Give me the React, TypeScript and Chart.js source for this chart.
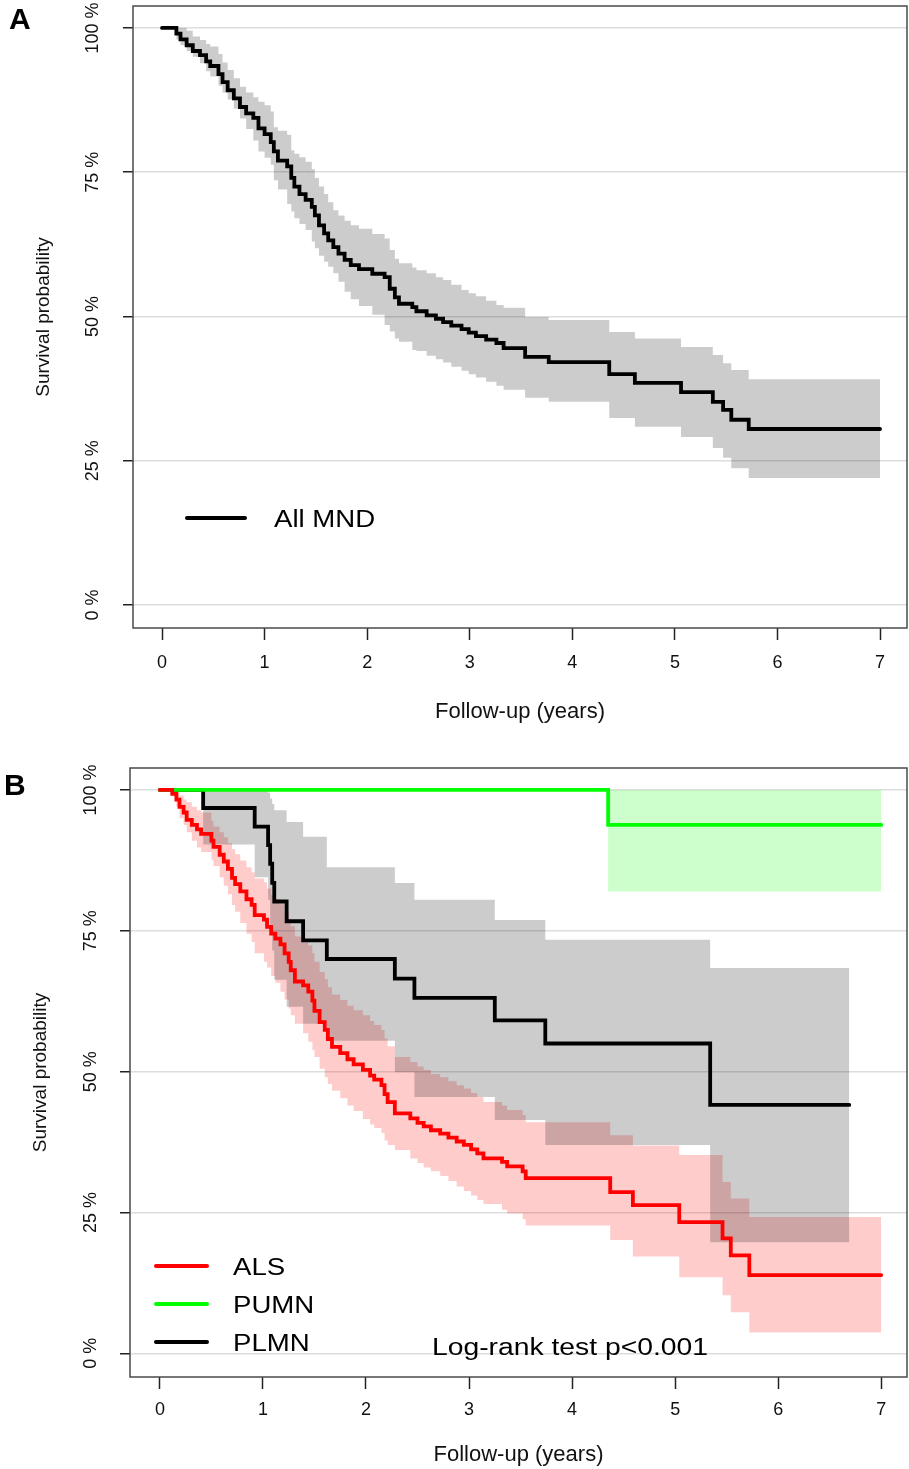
import React, { useEffect, useRef } from 'react';
import { Chart, registerables } from 'chart.js';

Chart.register(...registerables);

const FONT = '"Liberation Sans", Arial, Helvetica, sans-serif';

// ---------- shared axis text ----------
const xTickValues = [0, 1, 2, 3, 4, 5, 6, 7];
const xTickLabels = ['0', '1', '2', '3', '4', '5', '6', '7'];
const yTickValues = [0, 25, 50, 75, 100];
const yTickLabels = ['0 %', '25 %', '50 %', '75 %', '100 %'];
const xAxisTitle = 'Follow-up (years)';
const yAxisTitle = 'Survival probability';

// ---------- Panel A: All MND ----------
const panelALabel = 'A';
const mndName = 'All MND';
const mndTimes = [0, 0.14, 0.18, 0.24, 0.30, 0.37, 0.43, 0.47, 0.55, 0.59, 0.64, 0.70, 0.76, 0.82, 0.89, 0.94, 1.00, 1.06, 1.09, 1.13, 1.22, 1.26, 1.29, 1.34, 1.40, 1.46, 1.49, 1.53, 1.58, 1.62, 1.67, 1.72, 1.78, 1.84, 1.92, 2.05, 2.17, 2.22, 2.27, 2.31, 2.44, 2.48, 2.58, 2.67, 2.74, 2.82, 2.92, 2.99, 3.06, 3.16, 3.26, 3.33, 3.54, 3.77, 4.36, 4.61, 5.06, 5.37, 5.47, 5.55, 5.72, 7.00];
const mndSurv = [100, 99.0, 98.0, 97.0, 96.0, 95.3, 94.2, 93.4, 92.0, 90.6, 89.2, 87.8, 86.3, 85.2, 84.4, 82.6, 81.6, 80.2, 78.6, 77.0, 76.0, 74.0, 72.5, 71.2, 70.2, 69.0, 67.5, 65.8, 64.4, 63.2, 62.0, 60.9, 59.8, 58.9, 58.2, 57.4, 56.8, 54.8, 53.3, 52.2, 51.6, 50.9, 50.2, 49.6, 49.0, 48.4, 47.8, 47.2, 46.6, 46.0, 45.4, 44.5, 43.0, 42.1, 40.0, 38.5, 36.9, 35.2, 33.8, 32.1, 30.5, 30.5];
const mndUpper = [100, 100, 100, 99.5, 98.5, 97.9, 97.2, 96.8, 95.5, 94.0, 92.7, 91.3, 89.8, 88.8, 88.0, 87.2, 86.6, 85.5, 82.8, 82.2, 81.5, 78.8, 78.2, 77.6, 76.8, 75.5, 74.0, 72.5, 71.2, 69.8, 68.4, 67.5, 66.6, 65.8, 65.2, 64.3, 63.5, 61.5, 60.0, 59.2, 58.5, 58.0, 57.5, 56.8, 56.3, 55.5, 54.6, 54.0, 53.5, 52.7, 52.0, 51.5, 49.9, 49.4, 47.3, 46.2, 44.7, 43.3, 41.9, 40.7, 39.1, 39.1];
const mndLower = [100, 98.0, 97.0, 96.0, 95.0, 93.9, 92.5, 91.6, 90.0, 88.8, 87.6, 86.0, 84.3, 82.5, 80.5, 78.6, 77.5, 76.3, 73.6, 72.0, 69.5, 68.2, 67.0, 66.0, 65.0, 63.0, 61.8, 60.5, 59.5, 58.6, 57.5, 56.0, 54.3, 53.0, 51.8, 50.3, 48.5, 47.4, 46.2, 45.6, 44.2, 44.0, 43.2, 42.6, 42.0, 41.3, 40.6, 40.0, 39.4, 38.7, 38.0, 37.3, 35.9, 35.2, 32.4, 30.9, 29.1, 27.2, 25.5, 23.7, 22.0, 22.0];

// ---------- Panel B: by phenotype ----------
const panelBLabel = 'B';
const groupNames = ['ALS', 'PUMN', 'PLMN'];
const groupColors = ['#ff0000', '#00ff00', '#000000'];
const bandColors = ['rgba(255,0,0,0.2)', 'rgba(0,255,0,0.2)', 'rgba(0,0,0,0.2)'];
const logRankText = 'Log-rank test p<0.001';

const alsTimes = [0, 0.12, 0.16, 0.19, 0.23, 0.26, 0.31, 0.36, 0.40, 0.50, 0.52, 0.58, 0.62, 0.66, 0.70, 0.73, 0.78, 0.84, 0.89, 0.92, 1.01, 1.04, 1.08, 1.12, 1.17, 1.21, 1.25, 1.27, 1.31, 1.39, 1.44, 1.48, 1.50, 1.55, 1.60, 1.63, 1.67, 1.75, 1.82, 1.88, 1.97, 2.04, 2.08, 2.15, 2.18, 2.21, 2.28, 2.43, 2.50, 2.56, 2.63, 2.72, 2.80, 2.88, 2.95, 3.02, 3.08, 3.14, 3.32, 3.37, 3.52, 3.55, 4.37, 4.59, 5.04, 5.46, 5.54, 5.72, 7.00];
const alsSurv = [100, 99.3, 98.3, 97.0, 96.0, 94.7, 93.8, 93.0, 92.2, 91.0, 89.9, 88.5, 87.3, 86.0, 84.4, 83.3, 82.0, 80.6, 79.6, 77.8, 77.0, 75.7, 74.5, 73.6, 72.6, 71.0, 69.5, 68.0, 66.0, 65.3, 64.2, 62.6, 60.8, 58.8, 57.4, 55.8, 54.4, 53.3, 52.2, 51.3, 50.3, 49.3, 48.6, 47.6, 46.0, 44.6, 42.6, 41.7, 40.9, 40.3, 39.6, 39.0, 38.3, 37.6, 37.0, 36.2, 35.5, 34.6, 34.0, 33.2, 32.3, 31.1, 28.6, 26.3, 23.3, 20.4, 17.4, 13.9, 13.9];
const alsUpper = [100, 100, 99.5, 99.0, 98.3, 97.8, 97.0, 96.4, 96.0, 94.5, 93.5, 92.5, 91.6, 90.6, 89.5, 88.6, 87.5, 86.3, 85.4, 84.3, 83.6, 82.5, 81.4, 80.6, 79.7, 78.3, 77.0, 75.8, 74.0, 73.4, 72.4, 71.0, 69.5, 67.7, 66.4, 65.0, 63.7, 62.7, 61.7, 60.9, 60.0, 59.0, 58.3, 57.4, 55.9, 54.5, 52.6, 51.7, 50.9, 50.3, 49.6, 49.0, 48.3, 47.6, 47.0, 46.2, 45.5, 44.6, 44.0, 43.2, 42.3, 41.0, 38.7, 36.9, 35.2, 30.4, 27.5, 24.2, 24.2];
const alsLower = [100, 99.0, 97.0, 95.0, 93.8, 92.5, 91.0, 89.8, 89.0, 87.6, 86.5, 84.5, 83.0, 81.5, 79.6, 78.4, 76.4, 74.5, 73.0, 71.0, 69.5, 68.5, 67.0, 65.8, 64.2, 62.8, 61.2, 60.0, 58.5, 56.8, 55.3, 53.8, 52.6, 50.5, 49.0, 47.8, 46.6, 45.3, 44.0, 43.0, 41.6, 40.6, 40.0, 39.1, 37.8, 37.0, 36.1, 34.6, 33.8, 33.0, 32.3, 31.5, 30.6, 29.6, 28.8, 28.0, 27.2, 26.5, 25.5, 24.8, 23.8, 22.7, 20.1, 17.2, 13.5, 10.3, 7.3, 3.7, 3.7];

const pumnTimes = [0, 4.35, 7.00];
const pumnSurv = [100, 93.8, 93.8];
const pumnUpper = [100, 100, 100];
const pumnLower = [100, 82.0, 82.0];

const plmnTimes = [0, 0.42, 0.92, 1.05, 1.07, 1.09, 1.11, 1.23, 1.39, 1.62, 2.28, 2.47, 3.25, 3.74, 5.34, 6.69];
const plmnSurv = [100, 96.8, 93.5, 90.2, 86.9, 83.5, 80.2, 76.7, 73.3, 70.0, 66.5, 63.1, 59.1, 55.0, 44.1, 44.1];
const plmnUpper = [100, 100, 100, 99.5, 98.5, 97.5, 96.4, 94.3, 91.7, 86.3, 83.5, 80.5, 76.9, 73.4, 68.4, 68.4];
const plmnLower = [100, 90.3, 84.5, 80.5, 76.0, 71.5, 66.3, 61.5, 58.5, 55.5, 49.9, 45.5, 41.4, 37.0, 19.7, 19.7];

// ---------- helpers ----------
const pts = (times: number[], vals: number[]) => times.map((t, i) => ({ x: t, y: vals[i] }));

const lineDs = (label: string, times: number[], vals: number[], color: string) => ({
  label,
  data: pts(times, vals),
  borderColor: color,
  backgroundColor: color,
  borderWidth: 3.8,
  stepped: true,
  pointRadius: 0,
  fill: false,
  borderCapStyle: 'round',
});

const bandDs = (times: number[], upper: number[], lower: number[], color: string) => [
  {
    label: 'upper',
    data: pts(times, upper),
    borderColor: 'rgba(0,0,0,0)',
    borderWidth: 0,
    stepped: true,
    pointRadius: 0,
    fill: false,
  },
  {
    label: 'lower',
    data: pts(times, lower),
    borderColor: 'rgba(0,0,0,0)',
    backgroundColor: color,
    borderWidth: 0,
    stepped: true,
    pointRadius: 0,
    fill: '-1',
  },
];

function drawStretchedText(ctx: CanvasRenderingContext2D, text: string, x: number, y: number, size: number, sx: number, bold = false) {
  ctx.save();
  ctx.font = `${bold ? 'bold ' : ''}${size}px ${FONT}`;
  ctx.fillStyle = '#000';
  ctx.textBaseline = 'middle';
  ctx.textAlign = 'left';
  ctx.translate(x, y);
  ctx.scale(sx, 1);
  ctx.fillText(text, 0, 0);
  ctx.restore();
}

type Panel = {
  height: number;
  areaLeft: number;
  areaTop: number;
  areaRight: number;
  areaBottom: number;
  xMin: number;
  xMax: number;
  yMin: number;
  yMax: number;
  xTickPad: number;
  xTitlePadBottom: number;
  yTitlePadTop: number;
  yTickPad: number;
  datasets: any[];
  decorate: (chart: any) => void;
};

function makeConfig(p: Panel) {
  const decor = {
    id: 'decor',
    afterDraw(chart: any) {
      const { ctx, chartArea } = chart;
      ctx.save();
      ctx.strokeStyle = '#4a4a4a';
      ctx.lineWidth = 1.5;
      ctx.strokeRect(chartArea.left, chartArea.top, chartArea.right - chartArea.left, chartArea.bottom - chartArea.top);
      ctx.restore();
      p.decorate(chart);
    },
  };
  return {
    type: 'line',
    data: { datasets: p.datasets },
    plugins: [decor],
    options: {
      responsive: false,
      animation: false,
      events: [],
      layout: { padding: { left: 0, top: p.areaTop, right: 909 - p.areaRight, bottom: 0 } },
      plugins: { legend: { display: false }, tooltip: { enabled: false } },
      scales: {
        x: {
          type: 'linear',
          min: p.xMin,
          max: p.xMax,
          afterBuildTicks: (s: any) => { s.ticks = xTickValues.map((v) => ({ value: v })); },
          afterFit: (s: any) => { s.height = p.height - p.areaBottom; s.paddingLeft = 0; s.paddingRight = 0; },
          border: { display: false },
          grid: { drawOnChartArea: false, tickLength: 12, tickColor: '#222', tickWidth: 1.5 },
          ticks: {
            autoSkip: false,
            maxRotation: 0,
            padding: p.xTickPad,
            color: '#111',
            font: { family: FONT, size: 18 },
            callback: (v: any) => xTickLabels[xTickValues.indexOf(Number(v))],
          },
          title: {
            display: true,
            text: xAxisTitle,
            color: '#111',
            font: { family: FONT, size: 22 },
            padding: { top: 0, bottom: p.xTitlePadBottom },
          },
        },
        y: {
          type: 'linear',
          min: p.yMin,
          max: p.yMax,
          afterBuildTicks: (s: any) => { s.ticks = yTickValues.map((v) => ({ value: v })); },
          afterFit: (s: any) => { s.width = p.areaLeft; s.paddingTop = 0; s.paddingBottom = 0; },
          border: { display: false },
          grid: { color: '#dddddd', lineWidth: 1.5, tickLength: 10, tickColor: '#222', tickWidth: 1.5 },
          ticks: {
            autoSkip: false,
            minRotation: 90,
            maxRotation: 90,
            crossAlign: 'center',
            padding: p.yTickPad,
            color: '#111',
            font: { family: FONT, size: 18 },
            callback: (v: any) => yTickLabels[yTickValues.indexOf(Number(v))],
          },
          title: {
            display: true,
            text: yAxisTitle,
            color: '#111',
            font: { family: FONT, size: 19 },
            padding: { top: p.yTitlePadTop, bottom: 0 },
          },
        },
      },
    },
  };
}

const panelA: Panel = {
  height: 735,
  areaLeft: 133,
  areaTop: 6,
  areaRight: 907,
  areaBottom: 628,
  xMin: -0.283,
  xMax: 7.263,
  yMin: -3.99,
  yMax: 103.8,
  xTickPad: 12,
  xTitlePadBottom: 10,
  yTitlePadTop: 32,
  yTickPad: 4,
  datasets: [lineDs(mndName, mndTimes, mndSurv, '#000000'), ...bandDs(mndTimes, mndUpper, mndLower, 'rgba(0,0,0,0.2)')],
  decorate: (chart: any) => {
    const ctx = chart.ctx as CanvasRenderingContext2D;
    drawStretchedText(ctx, panelALabel, 9, 21, 30, 1, true);
    ctx.save();
    ctx.strokeStyle = '#000';
    ctx.lineWidth = 4;
    ctx.lineCap = 'round';
    ctx.beginPath();
    ctx.moveTo(187, 518);
    ctx.lineTo(245, 518);
    ctx.stroke();
    ctx.restore();
    drawStretchedText(ctx, mndName, 274, 521, 23, 1.2);
  },
};

const panelB: Panel = {
  height: 734,
  areaLeft: 130,
  areaTop: 33,
  areaRight: 907,
  areaBottom: 642,
  xMin: -0.29,
  xMax: 7.25,
  yMin: -4.2,
  yMax: 103.9,
  xTickPad: 10,
  xTitlePadBottom: 1,
  yTitlePadTop: 29,
  yTickPad: 3,
  datasets: [
    lineDs(groupNames[0], alsTimes, alsSurv, groupColors[0]),
    lineDs(groupNames[1], pumnTimes, pumnSurv, groupColors[1]),
    lineDs(groupNames[2], plmnTimes, plmnSurv, groupColors[2]),
    ...bandDs(plmnTimes, plmnUpper, plmnLower, bandColors[2]),
    ...bandDs(pumnTimes, pumnUpper, pumnLower, bandColors[1]),
    ...bandDs(alsTimes, alsUpper, alsLower, bandColors[0]),
  ],
  decorate: (chart: any) => {
    const ctx = chart.ctx as CanvasRenderingContext2D;
    drawStretchedText(ctx, panelBLabel, 4, 52, 30, 1, true);
    const ys = [531, 569, 607];
    groupNames.forEach((name, i) => {
      ctx.save();
      ctx.strokeStyle = groupColors[i];
      ctx.lineWidth = 4;
      ctx.lineCap = 'round';
      ctx.beginPath();
      ctx.moveTo(156, ys[i]);
      ctx.lineTo(207, ys[i]);
      ctx.stroke();
      ctx.restore();
      drawStretchedText(ctx, name, 233, ys[i] + 3, 23, 1.2);
    });
    drawStretchedText(ctx, logRankText, 432, 614, 23, 1.23);
  },
};

function PanelChart({ panel, top }: { panel: Panel; top: number }) {
  const ref = useRef<HTMLCanvasElement | null>(null);
  useEffect(() => {
    if (!ref.current) return;
    const chart = new Chart(ref.current, makeConfig(panel) as any);
    return () => chart.destroy();
  }, [panel]);
  return (
    <canvas
      ref={ref}
      width={909}
      height={panel.height}
      style={{ position: 'absolute', left: 0, top, width: 909, height: panel.height, display: 'block' }}
    />
  );
}

export default function App() {
  return (
    <div style={{ position: 'absolute', left: 0, top: 0, width: 909, height: 1469, background: '#fff' }}>
      <PanelChart panel={panelA} top={0} />
      <PanelChart panel={panelB} top={735} />
    </div>
  );
}
